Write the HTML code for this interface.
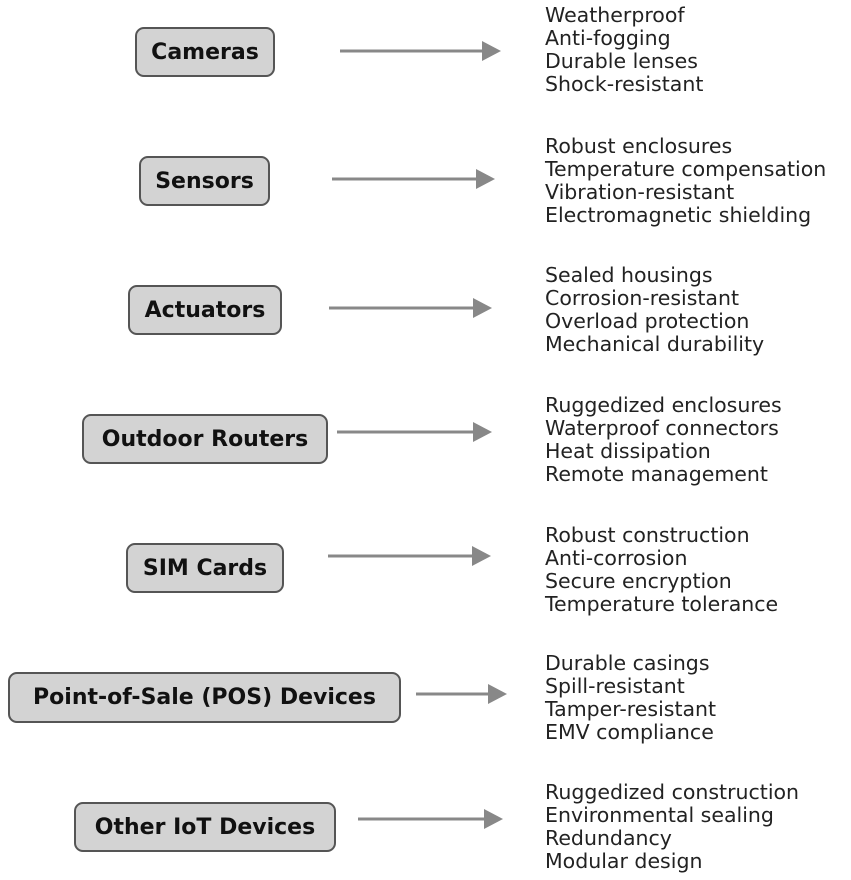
<!DOCTYPE html>
<html><head><meta charset="utf-8"><style>
body{margin:0;width:851px;height:880px;background:#fff;position:relative;overflow:hidden;font-family:"DejaVu Sans","Liberation Sans",sans-serif;}
.b{position:absolute;box-sizing:border-box;background:#d3d3d3;border:2px solid #555;border-radius:9px;display:flex;align-items:center;justify-content:center;font-weight:bold;font-size:22px;color:#111;white-space:nowrap}
.t{position:absolute;left:545px;font-size:20.5px;line-height:23px;color:#222;white-space:nowrap}
svg{position:absolute;left:0;top:0}
</style></head><body>
<div class="b" style="left:135px;top:27px;width:140px;height:50px">Cameras</div>
<div class="b" style="left:139px;top:156px;width:131px;height:50px">Sensors</div>
<div class="b" style="left:128px;top:285px;width:154px;height:50px">Actuators</div>
<div class="b" style="left:82px;top:414px;width:246px;height:50px">Outdoor Routers</div>
<div class="b" style="left:126px;top:543px;width:158px;height:50px">SIM Cards</div>
<div class="b" style="left:8px;top:672px;width:393px;height:51px">Point-of-Sale (POS) Devices</div>
<div class="b" style="left:74px;top:802px;width:262px;height:50px">Other IoT Devices</div>
<svg width="851" height="880">
<g stroke="#888" stroke-width="3" fill="#888">
<line x1="340" y1="51" x2="484" y2="51"/><polygon points="482,41 501,51 482,61" stroke="none"/>
<line x1="332" y1="179" x2="478" y2="179"/><polygon points="476,169 495,179 476,189" stroke="none"/>
<line x1="329" y1="308" x2="475" y2="308"/><polygon points="473,298 492,308 473,318" stroke="none"/>
<line x1="337" y1="432" x2="475" y2="432"/><polygon points="473,422 492,432 473,442" stroke="none"/>
<line x1="328" y1="556" x2="474" y2="556"/><polygon points="472,546 491,556 472,566" stroke="none"/>
<line x1="416" y1="694" x2="490" y2="694"/><polygon points="488,684 507,694 488,704" stroke="none"/>
<line x1="358" y1="819" x2="486" y2="819"/><polygon points="484,809 503,819 484,829" stroke="none"/>
</g></svg>
<div class="t" style="top:4px">Weatherproof<br>Anti-fogging<br>Durable lenses<br>Shock-resistant</div>
<div class="t" style="top:135px">Robust enclosures<br>Temperature compensation<br>Vibration-resistant<br>Electromagnetic shielding</div>
<div class="t" style="top:264px">Sealed housings<br>Corrosion-resistant<br>Overload protection<br>Mechanical durability</div>
<div class="t" style="top:394px">Ruggedized enclosures<br>Waterproof connectors<br>Heat dissipation<br>Remote management</div>
<div class="t" style="top:524px">Robust construction<br>Anti-corrosion<br>Secure encryption<br>Temperature tolerance</div>
<div class="t" style="top:652px">Durable casings<br>Spill-resistant<br>Tamper-resistant<br>EMV compliance</div>
<div class="t" style="top:781px">Ruggedized construction<br>Environmental sealing<br>Redundancy<br>Modular design</div>
</body></html>
